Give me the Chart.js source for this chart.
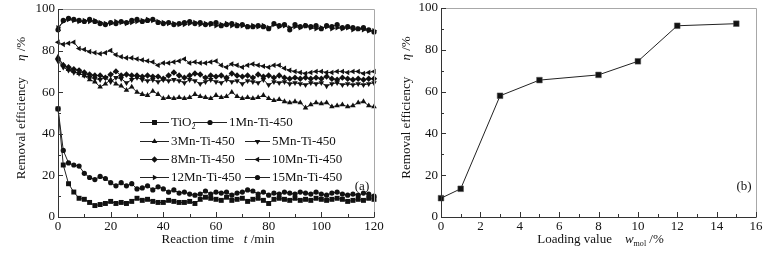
<!DOCTYPE html>
<html>
<head>
<meta charset="utf-8">
<script src="https://cdn.jsdelivr.net/npm/chart.js@4.4.1/dist/chart.umd.min.js"></script>
<style>
    html, body { margin: 0; padding: 0; background: #fff; }
    #wrap { position: relative; width: 770px; height: 256px; overflow: hidden; }
    #timeChart { position: absolute; left: 0; top: 0; }
    #loadingChart { position: absolute; left: 385px; top: 0; }
</style>
</head>
<body>
<div id="wrap">
    <canvas id="timeChart" width="385" height="256"></canvas>
    <canvas id="loadingChart" width="385" height="256"></canvas>
</div>
<script>
// (a) removal efficiency vs reaction time
const times = [0, 2, 4, 6, 8, 10, 12, 14, 16, 18, 20, 22, 24, 26, 28, 30, 32, 34, 36, 38, 40,
    42, 44, 46, 48, 50, 52, 54, 56, 58, 60, 62, 64, 66, 68, 70, 72, 74, 76, 78, 80,
    82, 84, 86, 88, 90, 92, 94, 96, 98, 100, 102, 104, 106, 108, 110, 112, 114, 116, 118, 120];

const seriesNames = ['TiO2', '1Mn-Ti-450', '3Mn-Ti-450', '5Mn-Ti-450',
    '8Mn-Ti-450', '10Mn-Ti-450', '12Mn-Ti-450', '15Mn-Ti-450'];

const tio2 = [52, 25, 16, 12, 9, 8.5, 7, 5.5, 6, 6.5, 7.5, 6.5, 7, 6.5, 7.5, 9, 8, 8.5, 7.5, 7, 7,
    8, 7.5, 7, 7, 7.5, 6.5, 8.5, 9.5, 9, 8.5, 8, 9.5, 8, 8.5, 9, 7.5, 8.5, 9, 8, 6.5,
    8.5, 9, 8.5, 8, 9, 8, 8.5, 8, 9, 8.5, 8, 8.5, 9, 8.5, 7.5, 8, 8.5, 8, 9, 8.5];
const mn1 = [52, 32, 26, 25, 24.5, 21, 19, 18, 19.5, 18.5, 16.5, 15, 16.5, 15, 16, 13.5, 14, 15, 13, 14.5, 13.5,
    12, 13, 11.5, 12, 11, 10.5, 11, 12.5, 11, 12, 11.5, 12, 10.5, 11.5, 12, 13, 12.5, 11, 12, 10.5,
    11.5, 11, 12, 11.5, 11, 12, 11.5, 11, 12, 11, 10.5, 11.5, 12, 11, 10.5, 11, 10.5, 11.5, 11, 10];
const mn3 = [77, 73, 71, 70, 69, 68, 66, 65, 62.5, 64, 66, 64, 63, 61, 62.5, 60, 59, 58.5, 60.5, 59, 57,
    57.5, 57, 57.5, 57, 57.5, 59, 58, 57.5, 57, 58.5, 57.5, 58, 60, 58, 57, 57.5, 57, 57.5, 58.5, 57,
    56, 56.5, 55.5, 55, 55.5, 55, 52.5, 54, 55, 54.5, 55, 53, 53.5, 54, 53, 53.5, 55, 55.5, 53.5, 53];
const mn5 = [75, 72, 70.5, 69.5, 69, 68, 67, 66.5, 66, 67, 65, 67, 66.5, 64.5, 66, 67, 66, 65.5, 66, 65, 66,
    65.5, 66, 65.5, 64.5, 66, 65.5, 64, 65, 66, 65, 64.5, 66, 65, 65.5, 64, 65.5, 65, 64.5, 66, 63.5,
    65, 64.5, 65, 64, 64.5, 64, 63.5, 64.5, 64, 64.5, 63, 64, 64.5, 63.5, 64, 63.5, 64, 63.5, 64, 64.5];
const mn8 = [76, 73, 72, 71, 70.5, 69.5, 68.5, 68, 68, 67, 68.5, 70, 68, 68.5, 68, 68, 67.5, 68, 67.5, 67.5, 66.5,
    68, 69.5, 68, 67, 68, 69, 68.5, 67, 68, 67.5, 68, 67, 69, 68, 67.5, 68, 67, 68.5, 67.5, 68,
    67, 68, 67, 66.5, 67, 66.5, 67, 66.5, 67, 66.5, 67.5, 66.5, 66, 67, 66.5, 66, 66.5, 66, 66.5, 66.5];
const mn10 = [84, 83, 83.5, 84, 81, 80.5, 79.5, 79, 78.5, 79, 80, 78, 77, 76.5, 76.5, 76, 75.5, 75, 74.5, 73, 74,
    74, 74.5, 75, 76, 74, 74.5, 74, 74, 74.5, 75, 73, 72, 73.5, 73, 72, 73, 73.5, 73, 72.5, 72,
    73, 73, 71.5, 70.5, 70, 69.5, 69, 69.5, 70, 70, 69.5, 69.5, 70, 70, 69.5, 70, 70, 69, 69.5, 70];
const mn12 = [91, 94, 95, 94.5, 94, 94.5, 94, 94.5, 93.5, 93, 93, 94, 93.5, 93, 93.5, 94, 94.5, 95, 94.5, 94, 93.5,
    93, 93, 92.5, 92.5, 93, 93.5, 92.5, 93, 92.5, 92, 92.5, 93, 92, 92.5, 92, 91.5, 92, 91.5, 92, 91,
    92.5, 91.5, 92, 91, 91.5, 91, 92, 91, 90.5, 91, 91.5, 90.5, 91, 90.5, 91, 90, 90.5, 90, 89.5, 89.5];
const mn15 = [90, 94.5, 95.5, 95, 94.5, 94, 95, 94, 93, 92.5, 93.5, 93, 94, 93.5, 94.5, 95, 94, 94.5, 95, 93.5, 93,
    93.5, 92.5, 93, 93.5, 94, 93, 93.5, 92.5, 93, 93.5, 92, 92.5, 93, 92, 92.5, 91.5, 91.5, 92, 91.5, 90.5,
    93, 92, 92.5, 90, 92.5, 91.5, 92, 91.5, 92, 90.5, 92, 91.5, 92.5, 91, 91.5, 91, 90.5, 91, 90, 89];

// (b) removal efficiency vs loading value
const loadings = [0, 1, 3, 5, 8, 10, 12, 15];
const efficiency = [9, 13.5, 58, 65.5, 68, 74.5, 91.5, 92.5];

const seriesValues = [tio2, mn1, mn3, mn5, mn8, mn10, mn12, mn15];
const markerStyles = ['rect', 'circle', 'triangle', 'triangle', 'rectRot', 'triangle', 'triangle', 'circle'];
const markerRotations = [0, 0, 0, 180, 0, 270, 90, 0];
const markerRadius = [3.5, 2.6, 3.2, 3.2, 3.2, 3.2, 3.2, 2.6];

const SERIF = "'Liberation Serif', 'DejaVu Serif', serif";

function drawMarker(ctx, style, rot, r, x, y) {
    ctx.save();
    ctx.translate(x, y);
    ctx.rotate(rot * Math.PI / 180);
    ctx.beginPath();
    if (style === 'circle') {
        ctx.arc(0, 0, r, 0, Math.PI * 2);
    } else if (style === 'rect') {
        const s = r * Math.SQRT1_2;
        ctx.rect(-s, -s, 2 * s, 2 * s);
    } else if (style === 'rectRot') {
        ctx.moveTo(0, -r); ctx.lineTo(r, 0); ctx.lineTo(0, r); ctx.lineTo(-r, 0); ctx.closePath();
    } else {
        ctx.moveTo(0, -r); ctx.lineTo(r * 0.866, r * 0.5); ctx.lineTo(-r * 0.866, r * 0.5); ctx.closePath();
    }
    ctx.fill();
    ctx.restore();
}

// text made of pieces: {t, italic, sub}
function richWidth(ctx, parts, size) {
    let w = 0;
    parts.forEach(p => {
        ctx.font = (p.italic ? 'italic ' : '') + (p.sub ? size * 0.62 : size) + 'px ' + SERIF;
        w += ctx.measureText(p.t).width;
    });
    return w;
}
function drawRich(ctx, parts, x, y, size) {
    let cx = x;
    parts.forEach(p => {
        ctx.font = (p.italic ? 'italic ' : '') + (p.sub ? size * 0.62 : size) + 'px ' + SERIF;
        ctx.fillText(p.t, cx, y + (p.sub ? size * 0.3 : 0));
        cx += ctx.measureText(p.t).width;
    });
}

// frame, inward ticks, axis titles and panel label
const framePlugin = {
    id: 'frame',
    afterDraw(chart, args, opts) {
        const { ctx, chartArea: a, scales: { x, y } } = chart;
        ctx.save();
        ctx.lineWidth = 1;
        ctx.strokeStyle = '#a8a8a8';
        ctx.beginPath();
        ctx.moveTo(a.left + 0.5, a.top + 0.5);
        ctx.lineTo(a.right + 0.5, a.top + 0.5);
        ctx.lineTo(a.right + 0.5, a.bottom + 0.5);
        ctx.stroke();
        ctx.strokeStyle = '#333';
        ctx.beginPath();
        ctx.moveTo(a.left + 0.5, a.top + 0.5);
        ctx.lineTo(a.left + 0.5, a.bottom + 0.5);
        ctx.lineTo(a.right + 0.5, a.bottom + 0.5);
        ctx.stroke();

        ctx.beginPath();
        for (let i = 0; x.min + i * opts.xMinor <= x.max; i++) {
            const v = x.min + i * opts.xMinor;
            const px = Math.round(x.getPixelForValue(v)) + 0.5;
            const len = (i % opts.xEvery === 0) ? 5 : 3;
            ctx.moveTo(px, a.bottom);
            ctx.lineTo(px, a.bottom - len);
        }
        for (let i = 0; y.min + i * opts.yMinor <= y.max; i++) {
            const v = y.min + i * opts.yMinor;
            const py = Math.round(y.getPixelForValue(v)) + 0.5;
            const len = (i % opts.yEvery === 0) ? 5 : 3;
            ctx.moveTo(a.left, py);
            ctx.lineTo(a.left + len, py);
        }
        ctx.stroke();

        ctx.fillStyle = '#111';
        ctx.textBaseline = 'middle';
        ctx.textAlign = 'left';
        const size = 13;
        // x title
        const xw = richWidth(ctx, opts.xTitle, size);
        drawRich(ctx, opts.xTitle, (a.left + a.right) / 2 - xw / 2 + opts.xTitleShift, opts.xTitleY, size);
        // y title
        ctx.save();
        ctx.translate(opts.yTitleX, (a.top + a.bottom) / 2 + opts.yTitleShift);
        ctx.rotate(-Math.PI / 2);
        const yw = richWidth(ctx, opts.yTitle, size);
        drawRich(ctx, opts.yTitle, -yw / 2, 0, size);
        ctx.restore();
        // panel label
        ctx.font = size + 'px ' + SERIF;
        ctx.textAlign = 'center';
        ctx.fillText(opts.panel, opts.panelX, opts.panelY);
        ctx.restore();
    }
};

// two column legend inside panel (a)
const legendPlugin = {
    id: 'innerLegend',
    afterDraw(chart, args, opts) {
        const ctx = chart.ctx;
        ctx.save();
        ctx.fillStyle = '#111';
        ctx.strokeStyle = '#222';
        ctx.lineWidth = 1;
        ctx.textBaseline = 'middle';
        ctx.textAlign = 'left';
        opts.items.forEach(it => {
            const i = it.index;
            ctx.beginPath();
            ctx.moveTo(it.x0, it.y + 0.5);
            ctx.lineTo(it.x1, it.y + 0.5);
            ctx.stroke();
            drawMarker(ctx, markerStyles[i], markerRotations[i], markerRadius[i], (it.x0 + it.x1) / 2, it.y + 0.5);
            let parts = [{ t: seriesNames[i] }];
            if (seriesNames[i] === 'TiO2') parts = [{ t: 'TiO' }, { t: '2', sub: true }];
            drawRich(ctx, parts, it.x1 + 2, it.y + 1, 13);
        });
        ctx.restore();
    }
};

function tickFont() {
    return { family: SERIF, size: 13 };
}

function createTimeChart() {
    const ctx = document.getElementById('timeChart');
    new Chart(ctx, {
        type: 'line',
        data: {
            datasets: seriesValues.map((vals, i) => ({
                label: seriesNames[i],
                data: times.map((t, j) => ({ x: t, y: vals[j] })),
                borderColor: '#222',
                borderWidth: 1,
                backgroundColor: '#111',
                pointBackgroundColor: '#111',
                pointBorderWidth: 0,
                pointStyle: markerStyles[i],
                rotation: markerRotations[i],
                pointRadius: markerRadius[i],
                tension: 0,
                clip: false
            }))
        },
        options: {
            responsive: false,
            animation: false,
            layout: { padding: { left: 0, top: 9, right: 11, bottom: 0 } },
            plugins: {
                legend: { display: false },
                tooltip: { enabled: false },
                frame: {
                    xMinor: 10, xEvery: 2, yMinor: 10, yEvery: 2,
                    xTitle: [{ t: 'Reaction time   ' }, { t: 't', italic: true }, { t: ' /min' }],
                    xTitleY: 240, xTitleShift: 2,
                    yTitle: [{ t: 'Removal efficiency     ' }, { t: 'η', italic: true }, { t: ' /%' }],
                    yTitleX: 22, yTitleShift: -5,
                    panel: '(a)', panelX: 362, panelY: 187
                },
                innerLegend: {
                    items: [
                        { index: 0, x0: 140, x1: 169, y: 122 },
                        { index: 1, x0: 193, x1: 227, y: 122 },
                        { index: 2, x0: 140, x1: 169, y: 141 },
                        { index: 3, x0: 245, x1: 270, y: 141 },
                        { index: 4, x0: 140, x1: 169, y: 159 },
                        { index: 5, x0: 245, x1: 270, y: 159 },
                        { index: 6, x0: 140, x1: 169, y: 177 },
                        { index: 7, x0: 245, x1: 270, y: 177 }
                    ]
                }
            },
            scales: {
                x: {
                    type: 'linear',
                    min: 0,
                    max: 120,
                    ticks: { stepSize: 20, color: '#111', font: tickFont(), padding: 2, maxRotation: 0 },
                    grid: { display: false, drawTicks: false },
                    border: { display: false },
                    afterFit(s) { s.height = 39; s.paddingLeft = 0; s.paddingRight = 0; }
                },
                y: {
                    min: 0,
                    max: 100,
                    ticks: { stepSize: 20, color: '#111', font: tickFont(), padding: 3 },
                    grid: { display: false, drawTicks: false },
                    border: { display: false },
                    afterFit(s) { s.width = 58; s.paddingTop = 0; s.paddingBottom = 0; }
                }
            }
        },
        plugins: [framePlugin, legendPlugin]
    });
}

function createLoadingChart() {
    const ctx = document.getElementById('loadingChart');
    new Chart(ctx, {
        type: 'line',
        data: {
            datasets: [{
                label: 'Removal efficiency',
                data: loadings.map((w, i) => ({ x: w, y: efficiency[i] })),
                borderColor: '#222',
                borderWidth: 1,
                backgroundColor: '#111',
                pointBackgroundColor: '#111',
                pointBorderColor: '#555',
                pointBorderWidth: 0.5,
                pointStyle: 'rect',
                pointRadius: 4,
                tension: 0,
                clip: false
            }]
        },
        options: {
            responsive: false,
            animation: false,
            layout: { padding: { left: 0, top: 8, right: 14, bottom: 0 } },
            plugins: {
                legend: { display: false },
                tooltip: { enabled: false },
                frame: {
                    xMinor: 1, xEvery: 2, yMinor: 10, yEvery: 2,
                    xTitle: [{ t: 'Loading value    ' }, { t: 'w', italic: true }, { t: 'mol', sub: true }, { t: ' /%' }],
                    xTitleY: 240, xTitleShift: 2,
                    yTitle: [{ t: 'Removal efficiency     ' }, { t: 'η', italic: true }, { t: ' /%' }],
                    yTitleX: 22, yTitleShift: -5,
                    panel: '(b)', panelX: 359, panelY: 187
                }
            },
            scales: {
                x: {
                    type: 'linear',
                    min: 0,
                    max: 16,
                    ticks: { stepSize: 2, color: '#111', font: tickFont(), padding: 2, maxRotation: 0 },
                    grid: { display: false, drawTicks: false },
                    border: { display: false },
                    afterFit(s) { s.height = 39; s.paddingLeft = 0; s.paddingRight = 0; }
                },
                y: {
                    min: 0,
                    max: 100,
                    ticks: { stepSize: 20, color: '#111', font: tickFont(), padding: 3 },
                    grid: { display: false, drawTicks: false },
                    border: { display: false },
                    afterFit(s) { s.width = 56; s.paddingTop = 0; s.paddingBottom = 0; }
                }
            }
        },
        plugins: [framePlugin]
    });
}

createTimeChart();
createLoadingChart();
</script>
</body>
</html>
